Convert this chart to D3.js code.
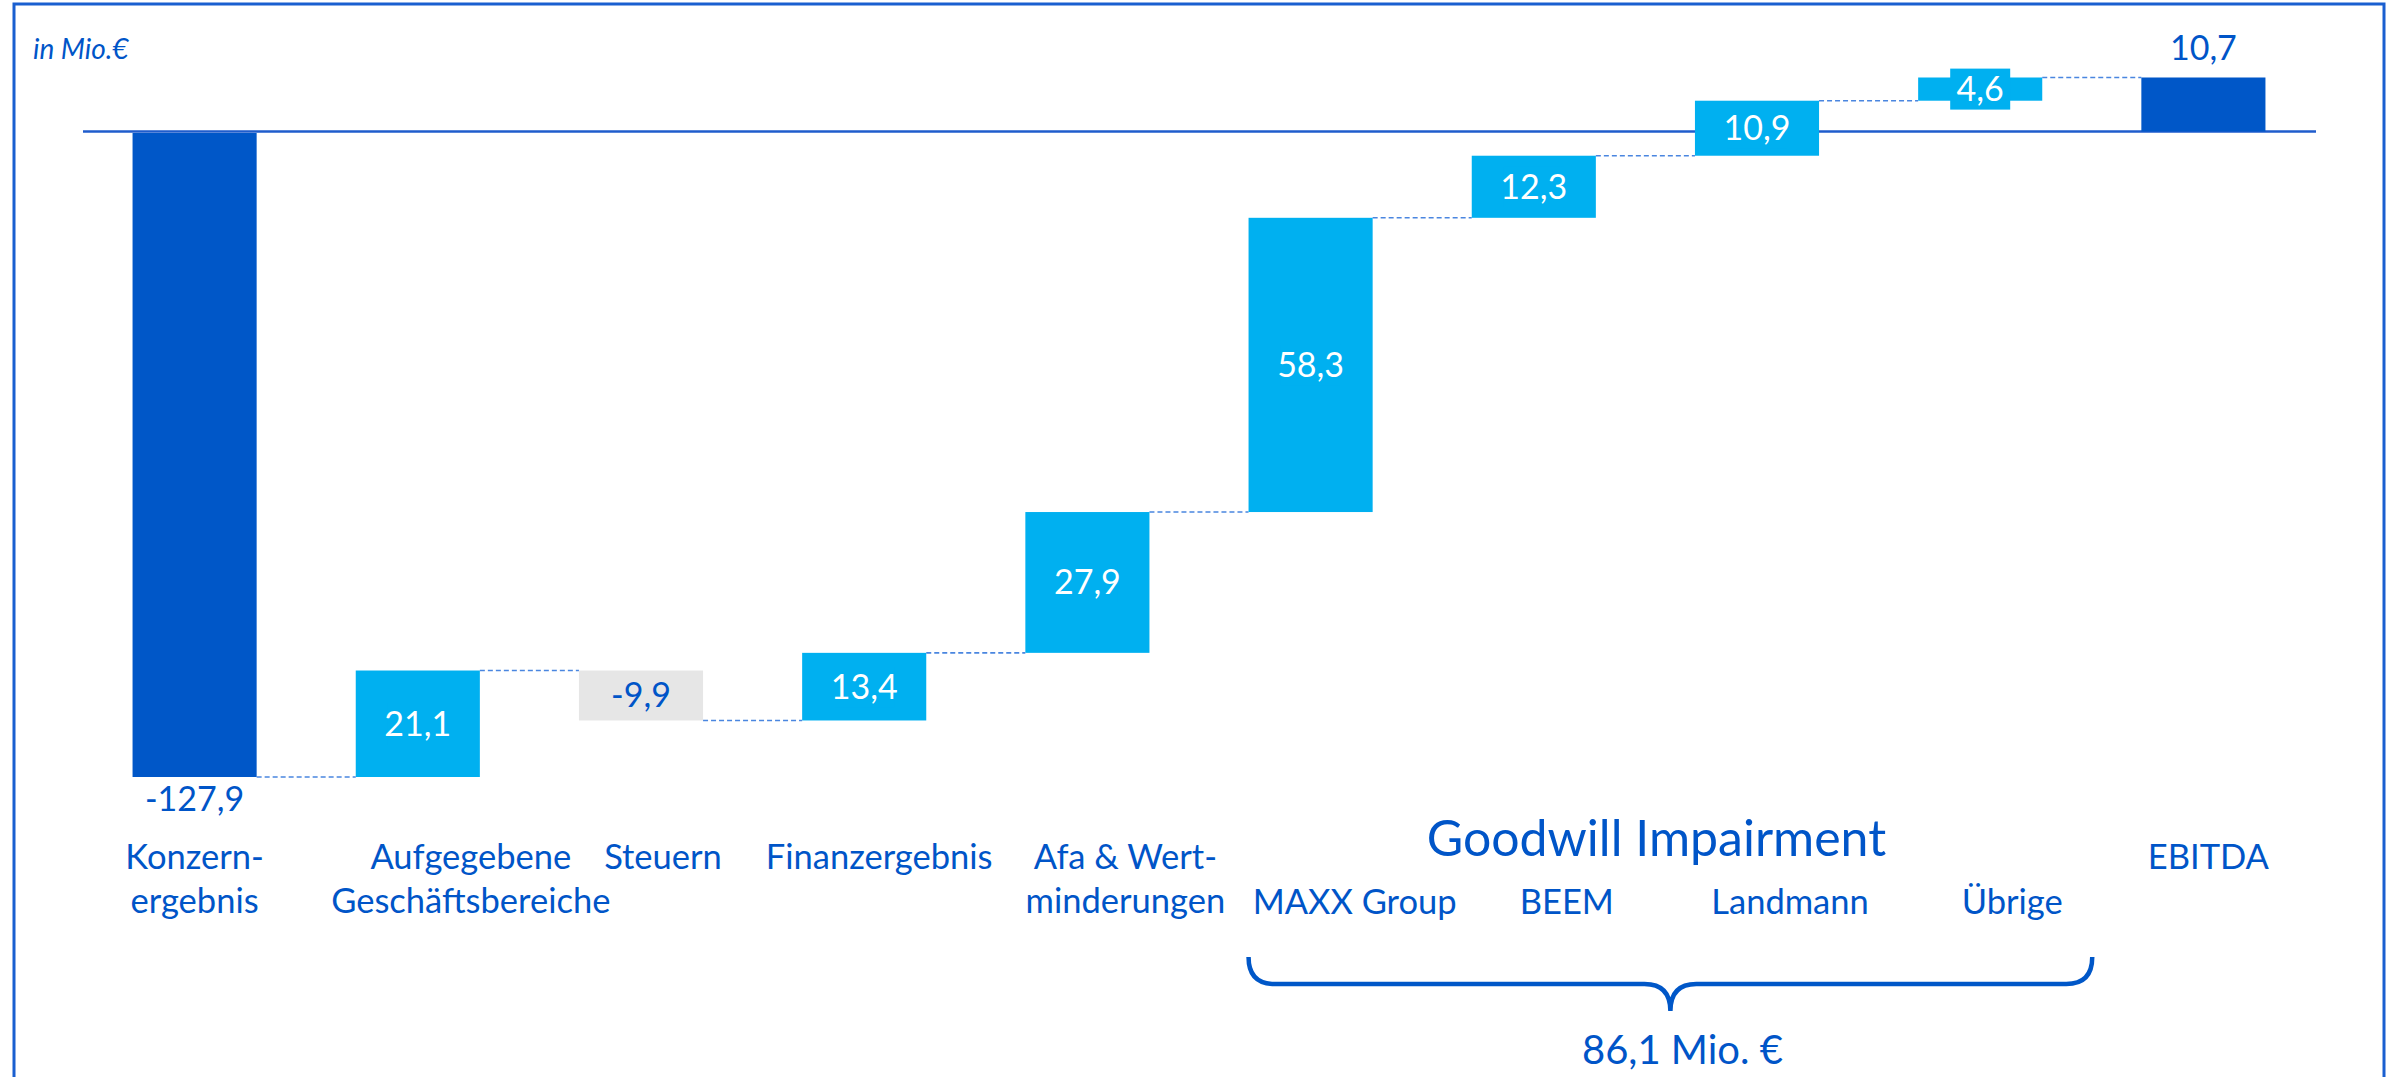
<!DOCTYPE html>
<html><head><meta charset="utf-8">
<script src="https://cdn.jsdelivr.net/npm/d3@7"></script>
<style>html,body{margin:0;padding:0;background:#fff;}svg{display:block;font-family:Lato,"Open Sans",sans-serif;}</style>
</head><body>
<script>
// ---- data ----
const categories = ["Konzernergebnis","Aufgegebene Geschäftsbereiche","Steuern","Finanzergebnis","Afa & Wertminderungen","MAXX Group","BEEM","Landmann","Übrige","EBITDA"];
const labelLines = [["Konzern-","ergebnis"],["Aufgegebene","Geschäftsbereiche"],["Steuern"],["Finanzergebnis"],["Afa & Wert-","minderungen"],["MAXX Group"],["BEEM"],["Landmann"],["Übrige"],["EBITDA"]];
const values = [-127.9, 21.1, -9.9, 13.4, 27.9, 58.3, 12.3, 10.9, 4.6, 10.7];
const barTypes = ["total","delta","delta","delta","delta","delta","delta","delta","delta","total"];
const groupTitle = "Goodwill Impairment";
const groupMembers = ["MAXX Group","BEEM","Landmann","Übrige"];
const groupTotalLabel = "86,1 Mio. €";
const unitLabel = "in Mio.€";

// ---- layout ----
const W = 2394, H = 1077;
const C = {dark:"#0057c8", light:"#00b0f0", gray:"#e6e6e6", text:"#0055c8", line:"#1f5ccc", conn:"#4a86e0"};
const fmt = v => d3.format(".1f")(v).replace(".", ",").replace("\u2212", "-");

// running totals
let run = 0;
const bars = categories.map((c,i) => {
  let y0, y1;
  if (barTypes[i] === "total") { y0 = 0; y1 = values[i]; run = values[i]; }
  else { y0 = run; y1 = run + values[i]; run = y1; }
  return {cat:c, v:values[i], type:barTypes[i], y0, y1, lines:labelLines[i], i};
});

const svg = d3.select("body").append("svg").attr("width", W).attr("height", H);

const x = d3.scaleBand().domain(categories).range([83, 2315]).paddingInner(0.444).paddingOuter(0.222);
const y = d3.scaleLinear().domain([-127.9, 10.7]).range([777, 77.5]);

// frame
svg.append("rect").attr("x",14).attr("y",4).attr("width",2370).attr("height",1120)
  .attr("fill","none").attr("stroke","#1a5fd0").attr("stroke-width",3);

svg.append("text").attr("x",33).attr("y",59).attr("font-size",28).attr("font-style","italic")
  .attr("fill",C.text).text(unitLabel);

// zero line (behind bars)
svg.append("line").attr("x1",83).attr("x2",2316).attr("y1",y(0)).attr("y2",y(0))
  .attr("stroke",C.line).attr("stroke-width",2.5);

// connectors
const conn = svg.append("g");
for (let i = 0; i < bars.length - 1; i++) {
  const a = bars[i], b = bars[i+1];
  conn.append("line")
    .attr("x1", x(a.cat) + x.bandwidth()).attr("x2", x(b.cat))
    .attr("y1", y(a.y1)).attr("y2", y(a.y1))
    .attr("stroke", C.conn).attr("stroke-width", 1.6).attr("stroke-dasharray","5,3");
}

// bars
const colorOf = d => d.type === "total" ? C.dark : (d.v < 0 ? C.gray : C.light);
svg.append("g").selectAll("rect").data(bars).join("rect")
  .attr("x", d => x(d.cat)).attr("width", x.bandwidth())
  .attr("y", d => y(Math.max(d.y0, d.y1)) + (d.type==="total" && d.v<0 ? 1.5 : 0))
  .attr("height", d => Math.abs(y(d.y0) - y(d.y1)) - (d.type==="total" && d.v<0 ? 1.5 : 0))
  .attr("fill", colorOf);

// value labels
const vl = svg.append("g").attr("font-size",34).attr("text-anchor","middle");
bars.forEach(d => {
  const cx = x(d.cat) + x.bandwidth()/2;
  if (d.type === "total") {
    const ty = d.v < 0 ? y(d.y1) + 34 : y(d.y1) - 18;
    vl.append("text").attr("x",cx).attr("y",ty).attr("fill",C.text).text(fmt(d.v));
  } else {
    const cy = (y(d.y0) + y(d.y1))/2;
    if (d.v > 0) {
      vl.append("rect").attr("x",cx-30).attr("y",cy-20.5).attr("width",60).attr("height",41).attr("fill",C.light);
    }
    vl.append("text").attr("x",cx).attr("y",cy+12).attr("fill", d.v < 0 ? C.text : "#fff").text(fmt(d.v));
  }
});

// category labels
const labelDx = [0, 53, 22, 15, 38, 44, 33, 33, 32, 5];
const cl = svg.append("g").attr("font-size",34.5).attr("text-anchor","middle").attr("fill",C.text);
bars.forEach((d,i) => {
  const cx = x(d.cat) + x.bandwidth()/2 + labelDx[i];
  const inGroup = groupMembers.includes(d.cat);
  const base = inGroup ? 914 : 869;
  d.lines.forEach((ln,k) => {
    cl.append("text").attr("x",cx).attr("y",base + k*44).text(ln);
  });
});

// group title, brace, total
const gx0 = x(groupMembers[0]);
const gx1 = x(groupMembers[groupMembers.length-1]) + x.bandwidth() + 50;
const gmid = (gx0 + gx1)/2;
svg.append("text").attr("x", gmid - 14).attr("y",856).attr("font-size",50).attr("text-anchor","middle")
  .attr("fill",C.text).text(groupTitle);
const yt = 957, yh = 984, ytip = 1011, r = 26;
const brace = d3.path();
brace.moveTo(gx0, yt);
brace.quadraticCurveTo(gx0, yh, gx0 + r, yh);
brace.lineTo(gmid - r, yh);
brace.quadraticCurveTo(gmid, yh, gmid, ytip);
brace.quadraticCurveTo(gmid, yh, gmid + r, yh);
brace.lineTo(gx1 - r, yh);
brace.quadraticCurveTo(gx1, yh, gx1, yt);
svg.append("path").attr("d", brace.toString()).attr("fill","none").attr("stroke",C.dark).attr("stroke-width",4.5);
svg.append("text").attr("x", gmid + 12).attr("y",1064).attr("font-size",40).attr("text-anchor","middle")
  .attr("fill",C.text).text(groupTotalLabel);
</script>
</body></html>
